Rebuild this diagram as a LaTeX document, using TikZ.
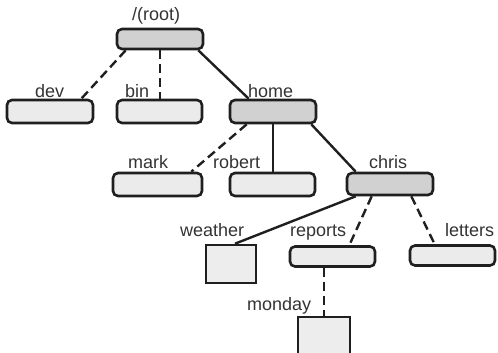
\documentclass[tikz,border=0pt]{standalone}
\usepackage{fontspec}
\setmainfont{Liberation Sans}
\begin{document}
\begin{tikzpicture}[x=1pt,y=-1pt,
  dirbox/.style={draw=black!88, line width=2.6pt, rounded corners=5pt, inner sep=0pt},
  hub/.style={dirbox, fill=black!18},
  leaf/.style={dirbox, fill=black!8},
  filebox/.style={draw=black!88, line width=2.6pt, fill=black!7, inner sep=0pt},
  lbl/.style={anchor=base west, inner sep=0pt, text=black!80, font=\fontsize{18}{20}\selectfont},
  solidlink/.style={draw=black!88, line width=2.4pt},
  dashlink/.style={draw=black!88, line width=2.4pt, dash pattern=on 9pt off 5pt}]
\useasboundingbox (0,0) rectangle (498,353);
\clip (0,0) rectangle (498,353);

% directories
\node[hub,  minimum width=86pt, minimum height=20pt] (root)    at (160,39)    {};
\node[leaf, minimum width=86pt, minimum height=23pt] (dev)     at (50,111.5)  {};
\node[leaf, minimum width=85pt, minimum height=23pt] (bin)     at (159.5,111.5) {};
\node[hub,  minimum width=86pt, minimum height=23pt] (home)    at (273,111.5) {};
\node[leaf, minimum width=89pt, minimum height=23pt] (mark)    at (157.5,184.5) {};
\node[leaf, minimum width=85pt, minimum height=23pt] (robert)  at (272.5,184.5) {};
\node[hub,  minimum width=86pt, minimum height=22pt] (chris)   at (390,184)   {};
\node[leaf, minimum width=85pt, minimum height=20pt] (reports) at (332.5,256.5) {};
\node[leaf, minimum width=85pt, minimum height=20pt] (letters) at (452.5,255.5) {};
% files
\node[filebox, minimum width=50pt, minimum height=38pt] (weather) at (231,264) {};
\node[filebox, minimum width=52pt, minimum height=38pt] (monday)  at (324,336) {};

% names
\node[lbl] (troot)    at (132,21)  {/(root)};
\node[lbl] (tdev)     at (35,97)   {dev};
\node[lbl] (tbin)     at (125,97)  {bin};
\node[lbl] (thome)    at (248,97)  {home};
\node[lbl] (tmark)    at (128,168) {mark};
\node[lbl] (trobert)  at (213,168) {robert};
\node[lbl] (tchris)   at (369,168) {chris};
\node[lbl] (tweather) at (180,236) {weather};
\node[lbl] (treports) at (290,236) {reports};
\node[lbl] (tletters) at (445,236) {letters};
\node[lbl] (tmonday)  at (247,310) {monday};

% links
\draw[dashlink]  ([xshift=10pt]root.south west) -- ([xshift=-13pt]dev.north east);
\draw[dashlink]  (root.south) -- (root.south |- bin.north);
\draw[solidlink] ([xshift=-6pt]root.south east) -- ([xshift=20pt]home.north west);
\draw[dashlink]  ([xshift=18pt]home.south west) -- ([xshift=-12pt]mark.north east);
\draw[solidlink] (home.south) -- (home.south |- robert.north);
\draw[solidlink] ([xshift=-6pt]home.south east) -- ([xshift=10pt]chris.north west);
\draw[solidlink] ([xshift=10pt]chris.south west) -- ([xshift=4pt]weather.north);
\draw[dashlink]  ([xshift=26pt]chris.south west) -- ([xshift=-27pt]reports.north east);
\draw[dashlink]  ([xshift=-23pt]chris.south east) -- ([xshift=26pt]letters.north west);
\draw[dashlink]  (monday.north |- reports.south) -- (monday.north);
\end{tikzpicture}
\end{document}
